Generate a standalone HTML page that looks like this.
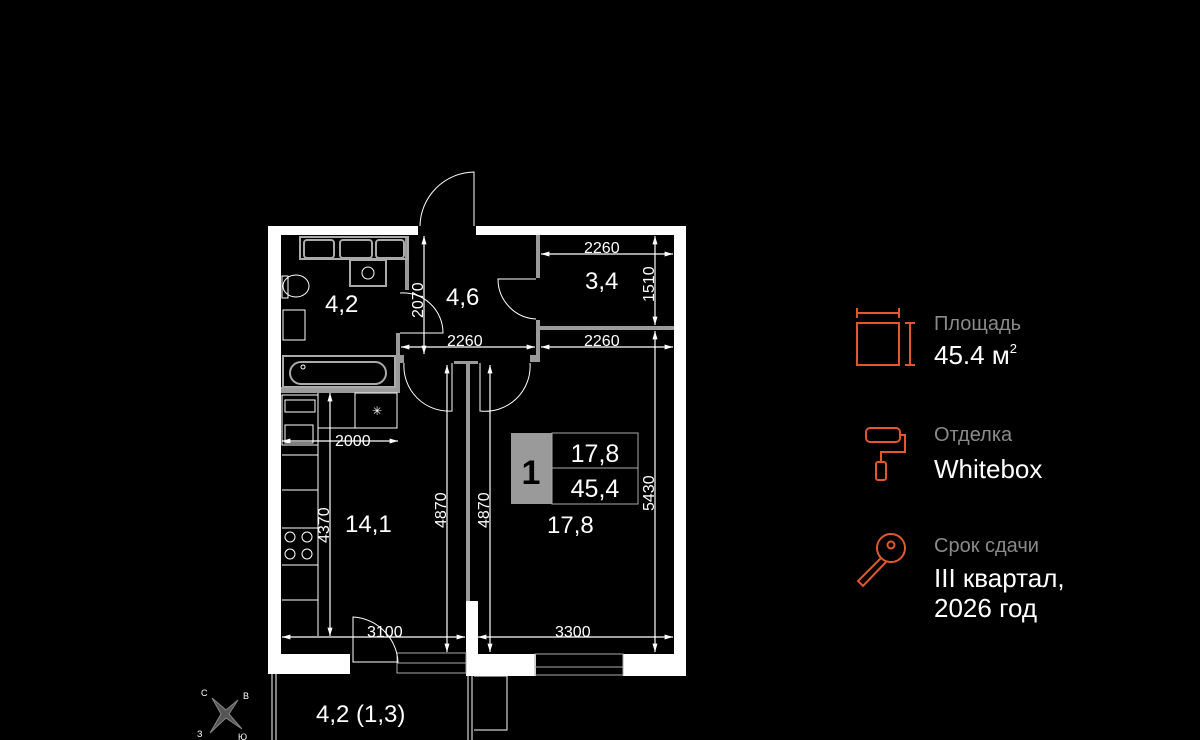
<!DOCTYPE html>
<html><head><meta charset="utf-8">
<style>
html,body{margin:0;padding:0;background:#000;width:1200px;height:740px;overflow:hidden}
svg{display:block}
text{font-family:"Liberation Sans","DejaVu Sans",sans-serif}
</style></head>
<body>
<svg width="1200" height="740" viewBox="0 0 1200 740" xmlns="http://www.w3.org/2000/svg">
<defs>
<marker id="a" viewBox="0 0 10 10" refX="10" refY="5" markerWidth="7" markerHeight="7" orient="auto-start-reverse"><path d="M0,2 L10,5 L0,8 z" fill="#fff"/></marker>
</defs>
<rect width="1200" height="740" fill="#000"/>
<g fill="#fff">
<rect x="268" y="226" width="150" height="9"/>
<rect x="476" y="226" width="210" height="9"/>
<rect x="268" y="226" width="13" height="448"/>
<rect x="674" y="226" width="12" height="450"/>
<rect x="268" y="654" width="82" height="20"/>
<rect x="466" y="601" width="12" height="75"/>
<rect x="466" y="654" width="70" height="22"/>
<rect x="623" y="654" width="63" height="22"/>
</g>
<g fill="none" stroke="#aaa" stroke-width="1">
<rect x="397" y="653" width="69" height="20"/>
<line x1="397" y1="663" x2="466" y2="663"/>
<rect x="535" y="654" width="88" height="21"/>
<line x1="535" y1="667" x2="623" y2="667"/>
</g>
<g fill="#9a9a9a">
<rect x="281" y="387" width="119" height="6"/>
<rect x="396" y="333" width="4" height="60"/>
<rect x="405" y="236" width="4" height="54"/>
<rect x="536" y="235" width="4" height="43"/>
<rect x="536" y="320" width="4" height="42"/>
<rect x="540" y="326" width="134" height="4"/>
<rect x="466" y="361" width="4" height="240"/>
<rect x="454" y="361" width="24" height="3"/>
<rect x="400" y="355" width="4" height="8"/>
<rect x="530" y="355" width="6" height="7"/>
</g>
<g fill="none" stroke="#fff" stroke-width="1">
<path d="M420,226 A55,55 0 0 1 474,172 L474,226"/>
<path d="M400,293 A40,40 0 0 1 443,333 L400,333"/>
<path d="M536,319 A40,40 0 0 1 498,279 L536,279"/>
<path d="M404,363 A45,45 0 0 0 452,411 L452,363"/>
<path d="M530,363 A45,45 0 0 1 480,411 L480,363"/>
<path d="M353,617 A48,48 0 0 1 398,662 L353,662 Z"/>
</g>
<g fill="none" stroke="#aaa" stroke-width="2">
<rect x="300" y="237" width="108" height="22"/>
<rect x="304" y="240" width="30" height="18" rx="3"/>
<rect x="340" y="240" width="32" height="18" rx="3"/>
<rect x="376" y="240" width="28" height="18" rx="3"/>
<rect x="350" y="260" width="36" height="26"/>
<rect x="283" y="356" width="112" height="31"/>
<rect x="290" y="362" width="96" height="22" rx="11"/>
</g>
<g fill="none" stroke="#fff" stroke-width="1">
<circle cx="368" cy="273" r="6"/>
<ellipse cx="296" cy="286" rx="13" ry="11"/>
<rect x="282" y="276" width="6" height="22"/>
<rect x="283" y="310" width="22" height="30"/>
<circle cx="303" cy="367" r="2"/>
<rect x="282" y="395" width="36" height="50"/>
<rect x="285" y="400" width="30" height="12"/>
<rect x="285" y="425" width="28" height="18"/>
<line x1="282" y1="455" x2="318" y2="455"/>
<line x1="282" y1="490" x2="318" y2="490"/>
<line x1="282" y1="528" x2="318" y2="528"/>
<line x1="282" y1="565" x2="318" y2="565"/>
<line x1="282" y1="600" x2="318" y2="600"/>
<line x1="318" y1="393" x2="318" y2="636"/>
<circle cx="290" cy="537" r="5"/><circle cx="307" cy="537" r="5"/>
<circle cx="290" cy="554" r="5"/><circle cx="307" cy="554" r="5"/>
<rect x="355" y="393" width="42" height="35"/>
<line x1="318" y1="428" x2="355" y2="428"/>
</g>
<text x="377" y="415" fill="#fff" font-size="12" text-anchor="middle">✳</text>
<g stroke="#fff" stroke-width="1.2" fill="none">
<line x1="282" y1="441" x2="398" y2="441" marker-start="url(#a)" marker-end="url(#a)"/>
<line x1="330" y1="393" x2="330" y2="636" marker-start="url(#a)" marker-end="url(#a)"/>
<line x1="424" y1="236" x2="424" y2="354" marker-start="url(#a)" marker-end="url(#a)"/>
<line x1="401" y1="347" x2="535" y2="347" marker-start="url(#a)" marker-end="url(#a)"/>
<line x1="541" y1="254" x2="673" y2="254" marker-start="url(#a)" marker-end="url(#a)"/>
<line x1="655" y1="236" x2="655" y2="325" marker-start="url(#a)" marker-end="url(#a)"/>
<line x1="541" y1="347" x2="673" y2="347" marker-start="url(#a)" marker-end="url(#a)"/>
<line x1="655" y1="331" x2="655" y2="652" marker-start="url(#a)" marker-end="url(#a)"/>
<line x1="447" y1="365" x2="447" y2="652" marker-start="url(#a)" marker-end="url(#a)"/>
<line x1="490" y1="365" x2="490" y2="652" marker-start="url(#a)" marker-end="url(#a)"/>
<line x1="282" y1="637" x2="465" y2="637" marker-start="url(#a)" marker-end="url(#a)"/>
<line x1="478" y1="637" x2="673" y2="637" marker-start="url(#a)" marker-end="url(#a)"/>
</g>
<g fill="#fff" font-size="16">
<text x="335" y="446">2000</text>
<text x="447" y="346">2260</text>
<text x="584" y="253">2260</text>
<text x="584" y="346">2260</text>
<text x="367" y="637">3100</text>
<text x="555" y="637">3300</text>
<text transform="translate(423,318) rotate(-90)">2070</text>
<text transform="translate(654,302) rotate(-90)">1510</text>
<text transform="translate(329,543) rotate(-90)">4370</text>
<text transform="translate(446,528) rotate(-90)">4870</text>
<text transform="translate(489,528) rotate(-90)">4870</text>
<text transform="translate(654,511) rotate(-90)">5430</text>
</g>
<g fill="#fff" font-size="24">
<text x="325" y="312">4,2</text>
<text x="446" y="305">4,6</text>
<text x="585" y="289">3,4</text>
<text x="345" y="532">14,1</text>
<text x="547" y="533">17,8</text>
<text x="316" y="722">4,2 (1,3)</text>
</g>
<rect x="511" y="433" width="41" height="71" fill="#9a9a9a"/>
<rect x="552" y="433" width="86" height="71" fill="none" stroke="#aaa" stroke-width="1"/>
<line x1="552" y1="468" x2="638" y2="468" stroke="#aaa"/>
<text x="531" y="484" fill="#000" font-size="34" font-weight="bold" text-anchor="middle">1</text>
<text x="595" y="462" fill="#fff" font-size="25" text-anchor="middle">17,8</text>
<text x="595" y="497" fill="#fff" font-size="25" text-anchor="middle">45,4</text>
<g stroke="#fff" stroke-width="1" fill="none">
<line x1="272" y1="674" x2="272" y2="740"/>
<line x1="276" y1="674" x2="276" y2="740"/>
<line x1="468" y1="676" x2="468" y2="740"/>
<line x1="472" y1="676" x2="472" y2="740"/>
<path d="M474,676 L507,676 L507,730 L474,730"/>
</g>
<path d="M212,698 L226,710 L238,700 L229,714 L242,729 L226,718 L210,733 L221,714 Z" fill="#555" stroke="#888"/>
<g fill="#fff" font-size="9"><text x="201" y="696">С</text><text x="243" y="699">В</text><text x="197" y="737">З</text><text x="238" y="740">Ю</text></g>
<g stroke="#e0582c" stroke-width="2" fill="none">
<rect x="857" y="323" width="42" height="42"/>
<line x1="857" y1="313" x2="899" y2="313"/><line x1="857" y1="308" x2="857" y2="318"/><line x1="899" y1="308" x2="899" y2="318"/>
<line x1="910" y1="323" x2="910" y2="365"/><line x1="905" y1="323" x2="915" y2="323"/><line x1="905" y1="365" x2="915" y2="365"/>
<rect x="866" y="428" width="34" height="14" rx="4"/>
<path d="M900,435 L905,435 L905,452 L881,452 L881,462"/>
<rect x="876" y="462" width="10" height="18" rx="2"/>
<circle cx="891" cy="548" r="14"/>
<circle cx="891" cy="545" r="3.5"/>
<path d="M881,558 L858,581 L863,586 L886,562"/>
</g>
<g>
<text x="934" y="330" fill="#8a8a8a" font-size="20">Площадь</text>
<text x="934" y="364" fill="#fff" font-size="26">45.4 м<tspan font-size="13" dy="-11">2</tspan></text>
<text x="934" y="441" fill="#8a8a8a" font-size="20">Отделка</text>
<text x="934" y="478" fill="#fff" font-size="26">Whitebox</text>
<text x="934" y="552" fill="#8a8a8a" font-size="20">Срок сдачи</text>
<text x="934" y="587" fill="#fff" font-size="26">III квартал,</text>
<text x="934" y="617" fill="#fff" font-size="26">2026 год</text>
</g>
</svg>
</body></html>
